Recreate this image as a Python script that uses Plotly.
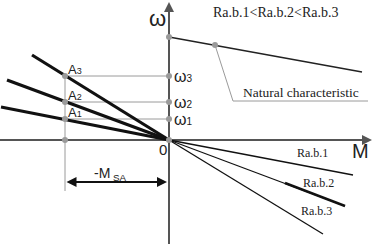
import plotly.graph_objects as go

# --- data (M, omega in drawing units; origin at 0,0) ---
omega_levels = [21, 38, 64]          # omega1, omega2, omega3
omega_labels = ["ω<span style='font-size:10px'>1</span>",
                "ω<span style='font-size:10px'>2</span>",
                "ω<span style='font-size:10px'>3</span>"]
point_labels = ["A<span style='font-size:9px'>1</span>",
                "A<span style='font-size:9px'>2</span>",
                "A<span style='font-size:9px'>3</span>"]
M_SA = -104
left_M = [-168, -162, -137]
left_w = [33, 60, 85]
right_M = [184, 176, 154]
right_w = [-35, -66, -94]
right_labels = ["Ra.b.1", "Ra.b.2", "Ra.b.3"]
right_label_pos = [(143, -13), (149, -43), (147, -71)]
rab2_thick_M = [116, 176]
rab2_thick_w = [-43, -66]
nat_M = [0, 193]
nat_w = [103, 68]
nat_point = (46, 95)

XR = [-169, 210]
YR = [-104, 140]

fig = go.Figure()

GRAY = "#9a9a9a"
AX = "#555555"

# gray guide lines
for w in omega_levels:
    fig.add_trace(go.Scatter(x=[M_SA, 0], y=[w, w], mode="lines",
                             line=dict(color=GRAY, width=1), hoverinfo="skip"))
fig.add_trace(go.Scatter(x=[M_SA, M_SA], y=[max(omega_levels), -51], mode="lines",
                         line=dict(color=GRAY, width=1), hoverinfo="skip"))
# callout line
fig.add_trace(go.Scatter(x=[nat_point[0], 64, 199], y=[nat_point[1], 39, 39], mode="lines",
                         line=dict(color=GRAY, width=1), hoverinfo="skip"))

# axes
fig.add_trace(go.Scatter(x=[XR[0], 198], y=[0, 0], mode="lines",
                         line=dict(color=AX, width=2), hoverinfo="skip"))
fig.add_trace(go.Scatter(x=[0, 0], y=[YR[0], 132], mode="lines",
                         line=dict(color=AX, width=2), hoverinfo="skip"))

# natural characteristic
fig.add_trace(go.Scatter(x=nat_M, y=nat_w, mode="lines",
                         line=dict(color="#222222", width=1.5), hoverinfo="skip"))

# left thick lines
for m, w in zip(left_M, left_w):
    fig.add_trace(go.Scatter(x=[0, m], y=[0, w], mode="lines",
                             line=dict(color="#111111", width=3.2), hoverinfo="skip"))
# right thin lines
for m, w in zip(right_M, right_w):
    fig.add_trace(go.Scatter(x=[0, m], y=[0, w], mode="lines",
                             line=dict(color="#111111", width=1.3), hoverinfo="skip"))
fig.add_trace(go.Scatter(x=rab2_thick_M, y=rab2_thick_w, mode="lines",
                         line=dict(color="#111111", width=2.5), hoverinfo="skip"))

# gray points
px = [0] * 5 + [M_SA] * 4 + [nat_point[0]]
py = [nat_w[0]] + omega_levels + [0] + omega_levels + [0] + [nat_point[1]]
fig.add_trace(go.Scatter(x=px, y=py, mode="markers",
                         marker=dict(color=GRAY, size=6), hoverinfo="skip"))

ann = []
# axis arrows
ann.append(dict(x=203, y=0, ax=190, ay=0, xref="x", yref="y", axref="x", ayref="y",
                showarrow=True, arrowhead=2, arrowsize=1, arrowwidth=2, arrowcolor=AX, text=""))
ann.append(dict(x=0, y=138, ax=0, ay=125, xref="x", yref="y", axref="x", ayref="y",
                showarrow=True, arrowhead=2, arrowsize=1, arrowwidth=2, arrowcolor=AX, text=""))
# -M_SA double arrow
ann.append(dict(x=-2, y=-42, ax=M_SA, ay=-42, xref="x", yref="y", axref="x", ayref="y",
                showarrow=True, arrowhead=2, startarrowhead=2, arrowside="end+start",
                arrowsize=1, arrowwidth=2, arrowcolor="#111111", text=""))

SANS = "Liberation Sans, Arial, sans-serif"
SERIF = "Liberation Serif, Times New Roman, serif"

def txt(x, y, t, size, family=SANS, xanchor="center", color="#222222"):
    ann.append(dict(x=x, y=y, xref="x", yref="y", text=t, showarrow=False,
                    xanchor=xanchor, yanchor="middle",
                    font=dict(size=size, family=family, color=color)))

txt(-12, 122, "ω", 22)
for w, lab in zip(omega_levels, omega_labels):
    txt(3, w, lab, 16, xanchor="left")
for w, lab in zip(omega_levels, point_labels):
    txt(M_SA + 1, w + 7, lab, 13, xanchor="left")
txt(-6, -9, "0", 15)
txt(191, -11, "M", 20)
txt(-59, -34, "-M<sub> SA</sub>", 14)
for (x, y), lab in zip(right_label_pos, right_labels):
    txt(x, y, lab, 12, family=SERIF)
txt(106, 128, "Ra.b.1<Ra.b.2<Ra.b.3", 14, family=SERIF)
txt(132, 48, "Natural characteristic", 13.5, family=SERIF)

fig.update_layout(
    width=379, height=244, margin=dict(l=0, r=0, t=0, b=0),
    paper_bgcolor="white", plot_bgcolor="white", showlegend=False,
    xaxis=dict(range=XR, visible=False, fixedrange=True),
    yaxis=dict(range=YR, visible=False, fixedrange=True),
    annotations=ann,
)
fig.write_html("out.html")
